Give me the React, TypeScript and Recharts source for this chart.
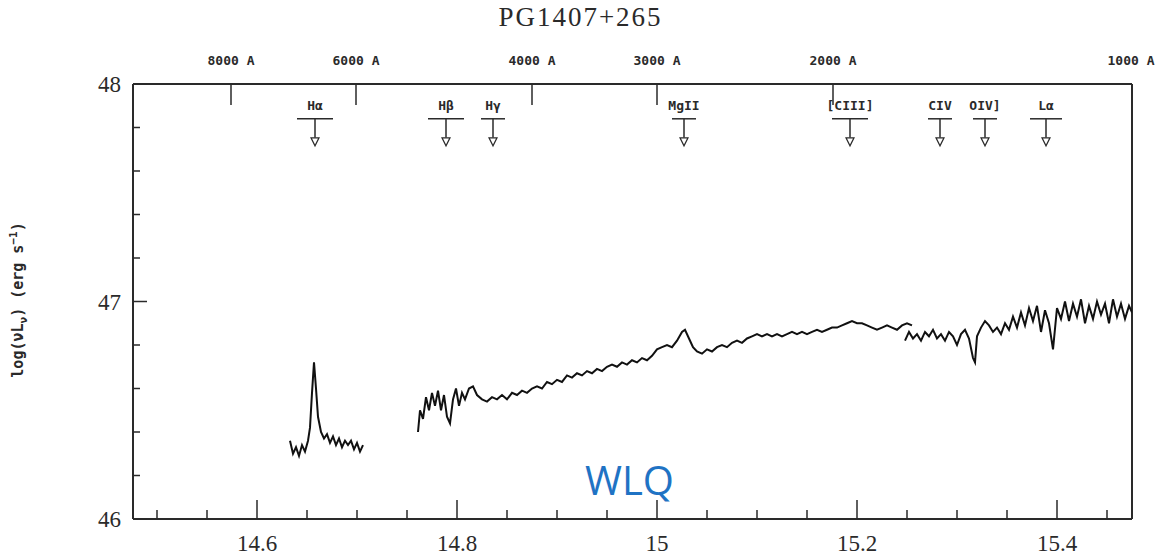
import React from 'react'
import { ComposedChart, Line, Scatter, XAxis, YAxis, ReferenceLine } from 'recharts'

// spectrum pieces [log nu, log nuLnu]
const seg1: [number, number][] = [
  [14.633, 46.36], [14.636, 46.30], [14.639, 46.33], [14.642, 46.29], [14.645, 46.34], [14.648, 46.31],
  [14.651, 46.36], [14.653, 46.42], [14.655, 46.58], [14.657, 46.72], [14.659, 46.60], [14.661, 46.47],
  [14.664, 46.40], [14.667, 46.37], [14.670, 46.39], [14.673, 46.35], [14.676, 46.38], [14.679, 46.34],
  [14.682, 46.37], [14.685, 46.33], [14.688, 46.36], [14.691, 46.34], [14.694, 46.36], [14.697, 46.32],
  [14.700, 46.35], [14.703, 46.31], [14.706, 46.34],
]
const seg2: [number, number][] = [
  [14.761, 46.40], [14.763, 46.50], [14.766, 46.46], [14.769, 46.56], [14.772, 46.50], [14.775, 46.58],
  [14.778, 46.52], [14.781, 46.59], [14.784, 46.50], [14.787, 46.57], [14.790, 46.47], [14.793, 46.44],
  [14.796, 46.55], [14.799, 46.60], [14.802, 46.52], [14.805, 46.58], [14.808, 46.55], [14.812, 46.60],
  [14.816, 46.61], [14.820, 46.57], [14.825, 46.55], [14.830, 46.54], [14.835, 46.56], [14.840, 46.55],
  [14.845, 46.57], [14.850, 46.55], [14.855, 46.58], [14.860, 46.57], [14.865, 46.59], [14.870, 46.58],
  [14.875, 46.60], [14.880, 46.61], [14.885, 46.60], [14.890, 46.63], [14.895, 46.62], [14.900, 46.64],
  [14.905, 46.63], [14.910, 46.66], [14.915, 46.65], [14.920, 46.67], [14.925, 46.66], [14.930, 46.68],
  [14.935, 46.67], [14.940, 46.69], [14.945, 46.68], [14.950, 46.70], [14.955, 46.71], [14.960, 46.70],
  [14.965, 46.72], [14.970, 46.71], [14.975, 46.73], [14.980, 46.72], [14.985, 46.74], [14.990, 46.73],
  [14.995, 46.75], [15.000, 46.78], [15.005, 46.79], [15.010, 46.80], [15.015, 46.79], [15.020, 46.82],
  [15.025, 46.86], [15.028, 46.87], [15.032, 46.83], [15.036, 46.79], [15.040, 46.77], [15.045, 46.76],
  [15.050, 46.78], [15.055, 46.77], [15.060, 46.79], [15.065, 46.80], [15.070, 46.79], [15.075, 46.81],
  [15.080, 46.82], [15.085, 46.81], [15.090, 46.83], [15.095, 46.84], [15.100, 46.85], [15.105, 46.84],
  [15.110, 46.85], [15.115, 46.84], [15.120, 46.85], [15.125, 46.84], [15.130, 46.85], [15.135, 46.86],
  [15.140, 46.85], [15.145, 46.86], [15.150, 46.85], [15.155, 46.86], [15.160, 46.87], [15.165, 46.86],
  [15.170, 46.87], [15.175, 46.88], [15.180, 46.88], [15.185, 46.89], [15.190, 46.90], [15.195, 46.91],
  [15.200, 46.90], [15.205, 46.90], [15.210, 46.89], [15.215, 46.88], [15.220, 46.87], [15.225, 46.88],
  [15.230, 46.89], [15.235, 46.88], [15.240, 46.87], [15.245, 46.89], [15.250, 46.90], [15.255, 46.89],
]
const seg3: [number, number][] = [
  [15.248, 46.82], [15.252, 46.86], [15.256, 46.83], [15.260, 46.85], [15.264, 46.82], [15.268, 46.86],
  [15.272, 46.84], [15.276, 46.87], [15.280, 46.83], [15.284, 46.85], [15.288, 46.82], [15.292, 46.86],
  [15.296, 46.84], [15.300, 46.80], [15.304, 46.85], [15.308, 46.87], [15.312, 46.83], [15.316, 46.74],
  [15.318, 46.72], [15.320, 46.84], [15.324, 46.88], [15.328, 46.91], [15.332, 46.89], [15.336, 46.86],
  [15.340, 46.88], [15.344, 46.85], [15.348, 46.90], [15.352, 46.87], [15.356, 46.93], [15.360, 46.88],
  [15.364, 46.95], [15.368, 46.89], [15.372, 46.97], [15.376, 46.91], [15.380, 46.98], [15.384, 46.86],
  [15.388, 46.96], [15.392, 46.90], [15.396, 46.78], [15.400, 46.97], [15.404, 46.92], [15.408, 47.00],
  [15.412, 46.91], [15.416, 46.99], [15.420, 46.93], [15.424, 47.01], [15.428, 46.90], [15.432, 46.98],
  [15.436, 46.92], [15.440, 47.00], [15.444, 46.94], [15.448, 46.99], [15.452, 46.90], [15.456, 47.01],
  [15.460, 46.93], [15.464, 46.99], [15.468, 46.92], [15.472, 46.98], [15.475, 46.95],
]

const lineNames = ['Hα', 'Hβ', 'Hγ', 'MgII', '[CIII]', 'CIV', 'OIV]', 'Lα']
const linePos = [14.658, 14.789, 14.836, 15.027, 15.193, 15.283, 15.328, 15.389]
const lineWidth = [36, 36, 24, 24, 36, 24, 24, 32]

const waveLabels = ['8000 A', '6000 A', '4000 A', '3000 A', '2000 A', '1000 A']
const wavePos = [14.574, 14.699, 14.875, 15.0, 15.176, 15.474]

const xDomain: [number, number] = [14.476, 15.475]
const yDomain: [number, number] = [46, 48]
const xTicks = [14.5, 14.55, 14.6, 14.65, 14.7, 14.75, 14.8, 14.85, 14.9, 14.95, 15, 15.05, 15.1, 15.15, 15.2, 15.25, 15.3, 15.35, 15.4, 15.45]
const yTicks = [46, 46.1, 46.2, 46.3, 46.4, 46.5, 46.6, 46.7, 46.8, 46.9, 47, 47.1, 47.2, 47.3, 47.4, 47.5, 47.6, 47.7, 47.8, 47.9, 48]
const yLabels = [46, 46.5, 47, 47.5, 48]

const toObj = (s: [number, number][]) => s.map(([x, y]) => ({ x, y }))
const markers = linePos.map((x, i) => ({ x, y: 47.84, name: lineNames[i], w: lineWidth[i] }))

const ink = '#2a2a2a'
const serif = '"Liberation Serif", "DejaVu Serif", serif'
const mono = '"DejaVu Sans Mono", monospace'

// plot frame (pixel edges of the inner area)
const TOP = 84
const BOTTOM = 519
const LEFT = 133
const RIGHT = 1132

const isMajorX = (v: number) => Math.abs(v * 5 - Math.round(v * 5)) < 1e-6
const isMajorY = (v: number) => yLabels.some(l => Math.abs(l - v) < 1e-6)

const BottomTick = ({ x, payload }: any) => {
  const major = isMajorX(payload.value)
  return (
    <g>
      <line x1={x} x2={x} y1={BOTTOM} y2={BOTTOM - (major ? 19 : 9)} stroke={ink} strokeWidth={1.5} />
      {major && (
        <text x={x} y={BOTTOM + 32} textAnchor="middle" fontFamily={serif} fontSize={23} fill={ink}>
          {Math.round(payload.value * 10) / 10}
        </text>
      )}
    </g>
  )
}

const LeftTick = ({ y, payload }: any) => {
  const major = isMajorY(payload.value)
  return (
    <g>
      <line x1={LEFT} x2={LEFT + (major ? 14 : 7)} y1={y} y2={y} stroke={ink} strokeWidth={1.5} />
      {major && (
        <text x={LEFT - 12} y={y + 8} textAnchor="end" fontFamily={serif} fontSize={23} fill={ink}>
          {payload.value}
        </text>
      )}
    </g>
  )
}

const RightTick = ({ y, payload }: any) => {
  const major = isMajorY(payload.value)
  return <line x1={RIGHT} x2={RIGHT - (major ? 14 : 7)} y1={y} y2={y} stroke={ink} strokeWidth={1.5} />
}

const TopTick = ({ x, index }: any) => (
  <g>
    {index < waveLabels.length - 1 && (
      <line x1={x} x2={x} y1={TOP} y2={TOP + 21} stroke={ink} strokeWidth={1.5} />
    )}
    <text x={x} y={TOP - 19} textAnchor="middle" fontFamily={mono} fontWeight="bold" fontSize={13} fill={ink}>
      {waveLabels[index]}
    </text>
  </g>
)

const Marker = ({ cx, cy, payload }: any) => (
  <g stroke={ink} strokeWidth={1.5} fill="none">
    <text x={cx} y={cy - 9} textAnchor="middle" fontFamily={mono} fontWeight="bold" fontSize={13} fill={ink} stroke="none">
      {payload.name}
    </text>
    <line x1={cx - payload.w / 2} x2={cx + payload.w / 2} y1={cy} y2={cy} />
    <line x1={cx} x2={cx} y1={cy} y2={cy + 19} />
    <path d={`M${cx - 4},${cy + 19} L${cx + 4},${cy + 19} L${cx},${cy + 27} Z`} fill="#fff" strokeWidth={1.2} />
  </g>
)

export default function App() {
  return (
    <div style={{ position: 'absolute', left: 0, top: 0, width: 1161, height: 558, background: '#fff' }}>
      <div style={{ position: 'absolute', left: 0, top: 2, width: 1161, textAlign: 'center', fontFamily: serif, fontSize: 27, color: ink, letterSpacing: 2 }}>
        PG1407+265
      </div>
      <ComposedChart width={1161} height={558} margin={{ top: 83, right: 0, bottom: 0, left: 0 }}>
        <XAxis xAxisId="b" type="number" dataKey="x" domain={xDomain} ticks={xTicks} allowDataOverflow
          height={39} tickSize={0} tickMargin={0} tick={<BottomTick />} axisLine={false} tickLine={false} />
        <XAxis xAxisId="t" orientation="top" type="number" dataKey="x" domain={xDomain} ticks={wavePos} allowDataOverflow
          height={1} tickSize={0} tickMargin={0} tick={<TopTick />} axisLine={false} tickLine={false} />
        <YAxis yAxisId="l" type="number" domain={yDomain} ticks={yTicks} width={133} tickSize={0} tickMargin={0}
          tick={<LeftTick />} axisLine={false} tickLine={false} />
        <YAxis yAxisId="r" orientation="right" type="number" domain={yDomain} ticks={yTicks} width={29} tickSize={0} tickMargin={0}
          tick={<RightTick />} axisLine={false} tickLine={false} />
        {yDomain.map(v => (
          <ReferenceLine key={'y' + v} xAxisId="b" yAxisId="l" y={v} stroke={ink} strokeWidth={2} ifOverflow="visible" />
        ))}
        {xDomain.map(v => (
          <ReferenceLine key={'x' + v} xAxisId="b" yAxisId="l" x={v} stroke={ink} strokeWidth={2} ifOverflow="visible" />
        ))}
        {[seg1, seg2, seg3].map((s, i) => (
          <Line key={i} xAxisId="b" yAxisId="l" data={toObj(s)} dataKey="y" type="linear" stroke="#111"
            strokeWidth={2} dot={false} isAnimationActive={false} />
        ))}
        <Scatter xAxisId="b" yAxisId="l" data={markers} dataKey="y" shape={<Marker />} isAnimationActive={false} />
      </ComposedChart>
      <div style={{ position: 'absolute', left: 18, top: 300, transform: 'translate(-50%, -50%) rotate(-90deg)', whiteSpace: 'nowrap',
        fontFamily: mono, fontWeight: 'bold', fontSize: 15, color: ink }}>
        log(νL<sub style={{ fontSize: 11 }}>ν</sub>) (erg s<sup style={{ fontSize: 11 }}>−1</sup>)
      </div>
      <div style={{ position: 'absolute', left: 585, top: 452, fontFamily: '"Open Sans", sans-serif', fontSize: 40, color: '#1f73c4' }}>
        WLQ
      </div>
    </div>
  )
}
